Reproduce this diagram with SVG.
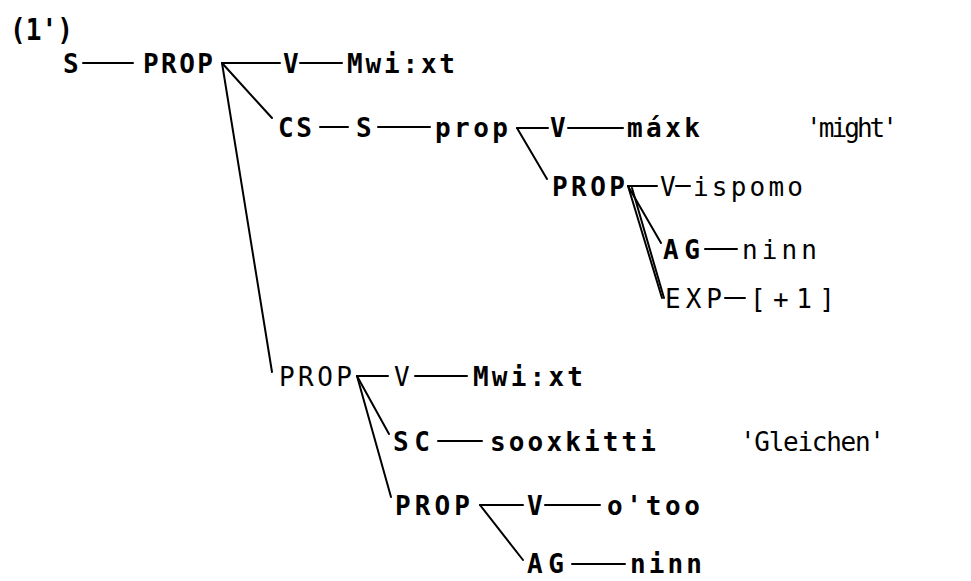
<svg xmlns="http://www.w3.org/2000/svg" width="971" height="581" viewBox="0 0 971 581">
<style>
text{font-family:"DejaVu Sans Mono","Liberation Mono",monospace;font-size:26px;fill:#000;font-weight:bold}
.n{font-weight:normal}
.big{font-size:31px}
#connectors line{stroke:#000;stroke-width:2;stroke-linecap:round}
</style>
<rect width="971" height="581" fill="#fff"/>
<g id="connectors">
<line x1="83" y1="63" x2="133" y2="63"/>
<line x1="222" y1="63" x2="280" y2="63"/>
<line x1="300" y1="63" x2="342" y2="63"/>
<line x1="222" y1="63" x2="272" y2="118"/>
<line x1="222" y1="63" x2="272" y2="372"/>
<line x1="320" y1="127" x2="348" y2="127"/>
<line x1="378" y1="127" x2="430" y2="127"/>
<line x1="517" y1="128" x2="548" y2="128"/>
<line x1="568" y1="128" x2="623" y2="128"/>
<line x1="517" y1="128" x2="547" y2="179"/>
<line x1="628" y1="186" x2="657" y2="186"/>
<line x1="676" y1="186" x2="690" y2="186"/>
<line x1="628" y1="186" x2="661" y2="243"/>
<line x1="628" y1="186" x2="662" y2="298"/>
<line x1="632" y1="188" x2="664" y2="298"/>
<line x1="705" y1="249" x2="737" y2="249"/>
<line x1="725" y1="298" x2="745" y2="298"/>
<line x1="357" y1="376" x2="388" y2="376"/>
<line x1="415" y1="376" x2="467" y2="376"/>
<line x1="357" y1="376" x2="389" y2="434"/>
<line x1="357" y1="376" x2="391" y2="497"/>
<line x1="438" y1="441" x2="482" y2="441"/>
<line x1="480" y1="505" x2="523" y2="505"/>
<line x1="545" y1="505" x2="600" y2="505"/>
<line x1="480" y1="505" x2="523" y2="560"/>
<line x1="572" y1="564" x2="625" y2="564"/>
</g>
<g id="label"><text class="big" x="10" y="40" textLength="63" lengthAdjust="spacingAndGlyphs">(1')</text></g>
<g id="n1"><text x="63" y="73">S</text></g>
<g id="n2"><text x="143" y="73" textLength="70">PROP</text></g>
<g id="n3"><text x="283" y="73">V</text></g>
<g id="n4"><text x="347" y="73" textLength="108">Mwi:xt</text></g>
<g id="n5"><text x="278" y="137" textLength="34">CS</text></g>
<g id="n6"><text x="356" y="137">S</text></g>
<g id="n7"><text x="435" y="137" textLength="73">prop</text></g>
<g id="n8"><text x="550" y="137">V</text></g>
<g id="n9"><text x="627" y="137" textLength="73">máxk</text></g>
<g id="n10"><text class="n" x="806" y="137" textLength="92">'might'</text></g>
<g id="n11"><text x="552" y="196" textLength="73">PROP</text></g>
<g id="n12"><text class="n" x="660" y="196">V</text></g>
<g id="n13"><text class="n" x="693" y="196" textLength="110">ispomo</text></g>
<g id="n14"><text x="663" y="259" textLength="37">AG</text></g>
<g id="n15"><text class="n" x="742" y="259" textLength="75">ninn</text></g>
<g id="n16"><text class="n" x="665" y="308" textLength="57">EXP</text></g>
<g id="n17"><text class="n" x="750" y="308" textLength="85">[+1]</text></g>
<g id="n18"><text class="n" x="279" y="386" textLength="73">PROP</text></g>
<g id="n19"><text class="n" x="394" y="386">V</text></g>
<g id="n20"><text x="473" y="386" textLength="110">Mwi:xt</text></g>
<g id="n21"><text x="393" y="451" textLength="37">SC</text></g>
<g id="n22"><text x="490" y="451" textLength="166">sooxkitti</text></g>
<g id="n23"><text class="n" x="740" y="451" textLength="145">'Gleichen'</text></g>
<g id="n24"><text x="395" y="515" textLength="75">PROP</text></g>
<g id="n25"><text x="527" y="515">V</text></g>
<g id="n26"><text x="607" y="515" textLength="93">o'too</text></g>
<g id="n27"><text x="527" y="573" textLength="37">AG</text></g>
<g id="n28"><text x="630" y="573" textLength="72">ninn</text></g>
</svg>
